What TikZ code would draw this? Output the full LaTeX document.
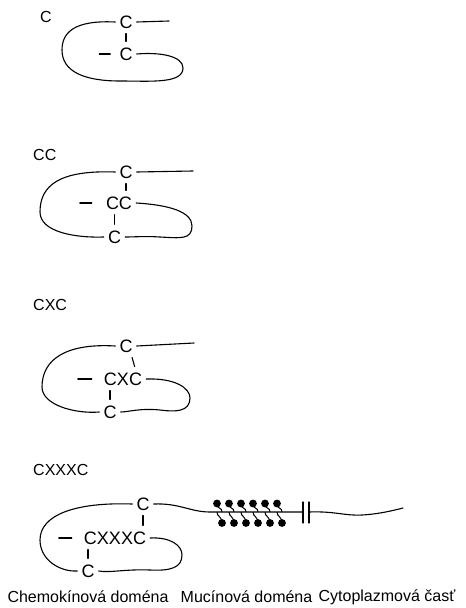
\documentclass[tikz,border=0pt]{standalone}
\usepackage{fontspec}
\setmainfont{Liberation Sans}
\usetikzlibrary{calc}

\begin{document}
\begin{tikzpicture}[x=1pt, y=-1pt,
    res/.style={font=\fontsize{18}{18}\selectfont, inner xsep=4pt, inner ysep=1pt},
    grp/.style={font=\fontsize{16}{16}\selectfont, anchor=west, inner sep=0pt},
    dom/.style={font=\fontsize{16}{16}\selectfont, inner sep=0pt},
    chain/.style={line width=1.1pt, line cap=round},
    bond/.style={chain, shorten <=4pt, shorten >=5pt},
    bead/.style={fill=black}]
    %%%%% START %%%%%
    \useasboundingbox (0,0) rectangle (466,608);

    % C
    \node[grp] (g1) at (40,17) {C};
    \node[res] (a1) at (126,22) {C};
    \node[res] (b1) at (126,54) {C};
    \coordinate (e1) at (169,21);
    \draw[chain] (a1.east) -- (e1);
    \draw[bond] (a1.south) -- (b1.north);
    \draw[chain] (b1.west) ++(-5,0) -- ++(-11,0);
    \draw[chain] (a1.west) .. controls (75,20) and (62,32) .. (62,50)
        .. controls (62,72) and (85,81) .. (120,81)
        .. controls (150,81) and (183,84) .. (183,68)
        .. controls (183,56) and (160,52) .. (b1.east);

    % CC
    \node[grp] (g2) at (33,155) {CC};
    \node[res] (a2) at (126,172) {C};
    \node[res] (b2) at (119,203) {CC};
    \node[res] (c2) at (114.5,237) {C};
    \coordinate (e2) at (193,171);
    \draw[chain] (a2.east) -- (e2);
    \draw[bond] (a2.south) -- (a2.south |- b2.north);
    \draw[bond] (c2.north |- b2.south) -- (c2.north);
    \draw[chain] (b2.west) ++(-10,0) -- ++(-12,0);
    \draw[chain] (a2.west) .. controls (60,170) and (40,185) .. (40,212)
        .. controls (40,232) and (75,238) .. (c2.west);
    \draw[chain] (b2.east) .. controls (170,205) and (192,212) .. (192,226)
        .. controls (192,240) and (180,238) .. (160,237)
        .. controls (145,236) and (135,237) .. (c2.east);

    % CXC
    \node[grp] (g3) at (33,305) {CXC};
    \node[res] (a3) at (126,346) {C};
    \node[res] (b3) at (123,379) {CXC};
    \node[res] (c3) at (110,412) {C};
    \coordinate (e3) at (194,343);
    \draw[chain] (a3.east) -- (e3);
    \draw[bond] ([xshift=5pt]a3.south) -- ([xshift=13pt]b3.north);
    \draw[bond] (c3.north |- b3.south) -- (c3.north);
    \draw[chain] (b3.west) ++(-8,0) -- ++(-14,0);
    \draw[chain] (a3.west) .. controls (65,343) and (42,360) .. (42,387)
        .. controls (42,405) and (75,414) .. (c3.west);
    \draw[chain] (b3.east) .. controls (175,378) and (190,388) .. (190,398)
        .. controls (190,412) and (175,412) .. (160,410)
        .. controls (140,408) and (128,412) .. (c3.east);

    % CXXXC
    \node[grp] (g4) at (33,470) {CXXXC};
    \node[res] (a4) at (143,504) {C};
    \node[res] (b4) at (115,538) {CXXXC};
    \node[res] (c4) at (88,571) {C};
    \draw[bond] (a4.south) -- (a4.south |- b4.north);
    \draw[bond] (c4.north |- b4.south) -- (c4.north);
    \draw[chain] (b4.west) ++(-8,0) -- ++(-13,0);
    \draw[chain] (a4.west) .. controls (75,502) and (40,515) .. (40,540)
        .. controls (40,560) and (60,572) .. (c4.west);
    \draw[chain] (b4.east) .. controls (170,537) and (182,545) .. (182,555)
        .. controls (182,568) and (170,571) .. (150,570)
        .. controls (125,569) and (110,573) .. (c4.east);

    % mucin stalk, membrane, tail
    \coordinate (m0) at (210,512);
    \coordinate (p1) at (303,512);
    \coordinate (p2) at (309,512);
    \coordinate (tail) at (403,508);
    \draw[chain] (a4.east) .. controls (180,503) and (190,512) .. (m0) -- (p1);
    \draw[chain] ([yshift=10pt]p1) -- ([yshift=-11pt]p1);
    \draw[chain] ([yshift=10pt]p2) -- ([yshift=-11pt]p2);
    \draw[chain] (p2) .. controls (335,511) and (345,516) .. (362,515)
        .. controls (380,514) and (395,510) .. (tail);

    % sugar side chains
    \foreach \i in {0,...,5} {
        \pgfmathsetmacro{\xt}{217+12*\i}
        \pgfmathsetmacro{\xb}{222+12*\i}
        \fill[bead] (\xt,503.5) circle (3.9);
        \draw[line width=1pt] (\xt,504) .. controls (\xt+1,510) and (\xt+5,507) .. (\xt+5,512);
        \fill[bead] (\xb,523) circle (3.9);
        \draw[line width=1pt] (\xb-5,512) .. controls (\xb-5,517) and (\xb-1,515) .. (\xb,523);
    }

    % domains
    \node[dom] (d1) at (88,597) {Chemokínová doména};
    \node[dom] (d2) at (246.5,597) {Mucínová doména};
    \node[dom] (d3) at (387,597) {Cytoplazmová časť};
    %%%%% END %%%%%
\end{tikzpicture}
\end{document}
